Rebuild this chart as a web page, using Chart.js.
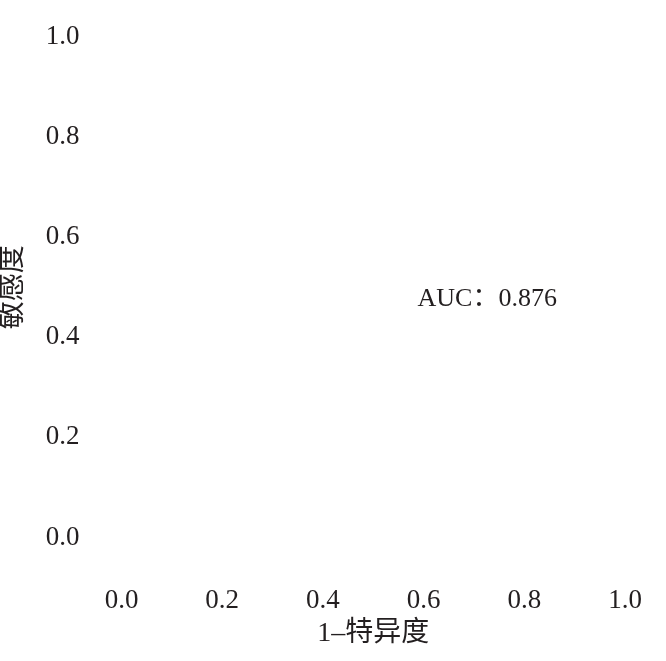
<!DOCTYPE html>
<html>
<head>
<meta charset="utf-8">
<script src="https://cdn.jsdelivr.net/npm/chart.js@4/dist/chart.umd.min.js"></script>
<style>
  html, body { margin: 0; padding: 0; background: #fff; }
  #wrap { width: 666px; height: 661px; }
</style>
</head>
<body>
<div id="wrap"><canvas id="roc" width="666" height="661"></canvas></div>
<script>
// ROC 曲线：图中曲线不可见，只保留坐标与 AUC 标注
const xTicks = [0, 0.2, 0.4, 0.6, 0.8, 1.0];
const yTicks = [0, 0.2, 0.4, 0.6, 0.8, 1.0];
const rocFpr = [];
const rocTpr = [];
const aucValue = 0.876;
const aucPos = [0.588, 0.476];

const ink = '#231f20';
const latin = "'Liberation Serif', 'Noto Sans CJK SC', serif";
const tickFont = { family: latin, size: 27 };
const titleFont = { family: latin, size: 28, lineHeight: 1 };

// AUC 文本按数据坐标定位
const aucLabel = {
  id: 'aucLabel',
  afterDraw(chart) {
    const { ctx, scales } = chart;
    const px = scales.x.getPixelForValue(aucPos[0]);
    const py = scales.y.getPixelForValue(aucPos[1]);
    ctx.save();
    ctx.fillStyle = ink;
    ctx.font = '26px ' + latin;
    ctx.textAlign = 'left';
    ctx.textBaseline = 'middle';
    ctx.fillText('AUC\uFF1A' + aucValue.toFixed(3), px, py);
    ctx.restore();
  },
};

function fixedTicks(list) {
  return (scale) => {
    scale.ticks = list.map((v) => ({ value: v }));
  };
}

// 固定轴尺寸，去掉标签溢出带来的额外内边距
function fixSize(prop, size) {
  return (s) => {
    s[prop] = size;
    s.paddingTop = 0;
    s.paddingBottom = 0;
    s.paddingLeft = 0;
    s.paddingRight = 0;
  };
}

new Chart(document.getElementById('roc'), {
  type: 'line',
  data: {
    datasets: [
      {
        label: 'ROC',
        data: rocFpr.map((x, i) => ({ x, y: rocTpr[i] })),
        borderColor: ink,
        borderWidth: 2,
        pointRadius: 0,
        fill: false,
      },
    ],
  },
  options: {
    responsive: false,
    animation: false,
    layout: { padding: { top: 37, right: 41, bottom: 0, left: 0 } },
    plugins: { legend: { display: false }, tooltip: { enabled: false } },
    scales: {
      x: {
        type: 'linear',
        min: 0,
        max: 1,
        afterBuildTicks: fixedTicks(xTicks),
        afterFit: fixSize('height', 123.5),
        grid: { display: false, tickLength: 0 },
        border: { display: false },
        ticks: {
          color: ink,
          font: tickFont,
          padding: 47,
          maxRotation: 0,
          callback: (v) => Number(v).toFixed(1),
        },
        title: {
          display: true,
          text: '1\u2013特异度',
          color: ink,
          font: titleFont,
          padding: { top: 0, bottom: 13 },
        },
      },
      y: {
        type: 'linear',
        min: 0,
        max: 1,
        afterBuildTicks: fixedTicks(yTicks),
        afterFit: fixSize('width', 121.5),
        grid: { display: false, tickLength: 0 },
        border: { display: false },
        ticks: {
          color: ink,
          font: tickFont,
          padding: 42,
          callback: (v) => Number(v).toFixed(1),
        },
        title: {
          display: true,
          text: '敏感度',
          color: ink,
          font: titleFont,
          padding: { top: 0, bottom: 0 },
        },
      },
    },
  },
  plugins: [aucLabel],
});
</script>
</body>
</html>
